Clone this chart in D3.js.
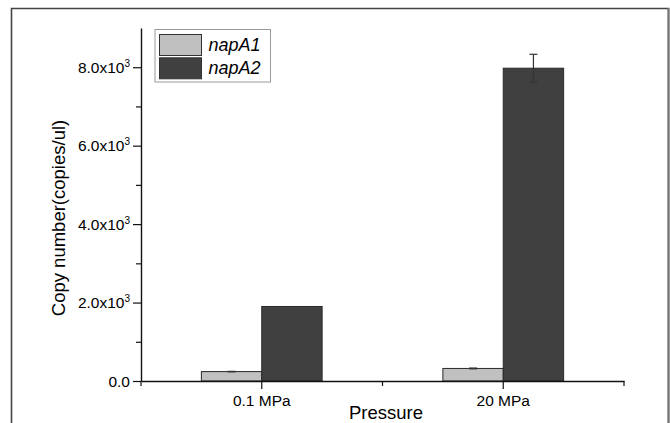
<!DOCTYPE html>
<html>
<head>
<meta charset="utf-8">
<script src="https://cdn.jsdelivr.net/npm/d3@7.9.0/dist/d3.min.js"></script>
<style>
  body { margin: 0; background: #fff; }
  text { font-family: 'Liberation Sans', Arial, sans-serif; fill: #000; }
</style>
</head>
<body>
<svg id="chart"></svg>
<script>
// values
const categories = ['0.1 MPa', '20 MPa'];
const seriesNames = ['napA1', 'napA2'];
const napA1 = [240, 320];
const napA1Err = [6, 10];
const napA2 = [1900, 7975];
const napA2Err = [0, 355];
const yTicks = [0, 2000, 4000, 6000, 8000];
const yMinorTicks = [1000, 3000, 5000, 7000];
const colors = ['#c0c0c0', '#404040'];

const width = 670;
const height = 423;
const margin = { top: 28, right: 46, bottom: 42, left: 141 };

const svg = d3.select('#chart').attr('width', width).attr('height', height);

// outer frame (bottom is cut off in the original)
svg.append('path')
  .attr('d', `M11.5,${height} V8.5 H668.5 V${height}`)
  .attr('fill', 'none')
  .attr('stroke', '#444')
  .attr('stroke-width', 1.6);
svg.append('line')
  .attr('x1', 668.5).attr('x2', 668.5).attr('y1', 8).attr('y2', height)
  .attr('stroke', '#777').attr('stroke-width', 2);

const x0 = d3.scaleBand()
  .domain(categories)
  .range([margin.left, width - margin.right])
  .paddingInner(0.5)
  .paddingOuter(0.25);

const x1 = d3.scaleBand()
  .domain(seriesNames)
  .range([0, x0.bandwidth()]);

const y = d3.scaleLinear()
  .domain([0, 9000])
  .range([height - margin.bottom, margin.top]);

const rows = categories.map((c, i) => ({
  cat: c,
  bars: [
    { key: 'napA1', value: napA1[i], err: napA1Err[i] },
    { key: 'napA2', value: napA2[i], err: napA2Err[i] },
  ],
}));

const groups = svg.append('g')
  .selectAll('g')
  .data(rows)
  .join('g')
  .attr('transform', (d) => `translate(${x0(d.cat)},0)`);

groups.selectAll('rect')
  .data((d) => d.bars)
  .join('rect')
  .attr('x', (d) => x1(d.key))
  .attr('y', (d) => y(d.value))
  .attr('width', x1.bandwidth())
  .attr('height', (d) => y(0) - y(d.value))
  .attr('fill', (d, i) => colors[i])
  .attr('stroke', '#2a2a2a')
  .attr('stroke-width', 1);

// error bars
const eb = groups.selectAll('g.err')
  .data((d) => d.bars.filter((b) => b.err > 0))
  .join('g')
  .attr('class', 'err')
  .attr('stroke', '#333')
  .attr('stroke-width', 1.2);
eb.append('line')
  .attr('x1', (d) => x1(d.key) + x1.bandwidth() / 2)
  .attr('x2', (d) => x1(d.key) + x1.bandwidth() / 2)
  .attr('y1', (d) => y(d.value - d.err))
  .attr('y2', (d) => y(d.value + d.err));
eb.selectAll('line.cap')
  .data((d) => [{ b: d, v: d.value - d.err }, { b: d, v: d.value + d.err }])
  .join('line')
  .attr('class', 'cap')
  .attr('x1', (d) => x1(d.b.key) + x1.bandwidth() / 2 - 4)
  .attr('x2', (d) => x1(d.b.key) + x1.bandwidth() / 2 + 4)
  .attr('y1', (d) => y(d.v))
  .attr('y2', (d) => y(d.v));

// y axis
const yAxisG = svg.append('g')
  .attr('transform', `translate(${margin.left},0)`)
  .call(d3.axisLeft(y).tickValues(yTicks).tickSize(8).tickSizeOuter(0).tickFormat(''));
yAxisG.select('.domain').attr('stroke', '#111').attr('stroke-width', 1.4);
yAxisG.selectAll('.tick line').attr('stroke', '#111').attr('stroke-width', 1.2);
svg.append('g')
  .attr('transform', `translate(${margin.left},0)`)
  .call(d3.axisLeft(y).tickValues(yMinorTicks).tickSize(5).tickFormat(''))
  .call((g) => g.select('.domain').remove())
  .selectAll('.tick line').attr('stroke', '#111').attr('stroke-width', 1.2);

const yLab = svg.append('g').selectAll('text')
  .data(yTicks)
  .join('text')
  .attr('x', 130)
  .attr('y', (d) => y(d) + 5.5)
  .attr('text-anchor', 'end')
  .style('font-size', '15.5px');
yLab.text((d) => (d === 0 ? '0.0' : (d / 1000).toFixed(1) + 'x10'));
yLab.filter((d) => d !== 0)
  .append('tspan')
  .attr('dy', -6)
  .style('font-size', '10px')
  .text('3');

// x axis
const xAxisG = svg.append('g')
  .attr('transform', `translate(0,${y(0)})`)
  .call(d3.axisBottom(x0).tickSize(8).tickSizeOuter(0).tickFormat(''));
xAxisG.select('.domain').attr('stroke', '#111').attr('stroke-width', 1.4);
xAxisG.selectAll('.tick line').attr('stroke', '#111').attr('stroke-width', 1.2);

const step = x0.step();
const xMinor = [margin.left, x0(categories[0]) + x0.bandwidth() / 2 + step / 2, width - margin.right];
svg.append('g').selectAll('line')
  .data(xMinor)
  .join('line')
  .attr('x1', (d) => d).attr('x2', (d) => d)
  .attr('y1', y(0)).attr('y2', y(0) + 5)
  .attr('stroke', '#111').attr('stroke-width', 1.2);

svg.append('g').selectAll('text')
  .data(categories)
  .join('text')
  .attr('x', (d) => x0(d) + x0.bandwidth() / 2)
  .attr('y', 405.5)
  .attr('text-anchor', 'middle')
  .style('font-size', '15.5px')
  .text((d) => d);

// axis titles
svg.append('text')
  .attr('x', 386)
  .attr('y', 419)
  .attr('text-anchor', 'middle')
  .style('font-size', '18.5px')
  .text('Pressure');

svg.append('text')
  .attr('transform', 'translate(65,218) rotate(-90)')
  .attr('text-anchor', 'middle')
  .style('font-size', '18.5px')
  .text('Copy number(copies/ul)');

// legend
const legend = svg.append('g').attr('transform', 'translate(155,29.5)');
legend.append('rect')
  .attr('width', 115.5).attr('height', 52.5)
  .attr('fill', '#fff').attr('stroke', '#999').attr('stroke-width', 1);
const li = legend.selectAll('g.item')
  .data(seriesNames)
  .join('g')
  .attr('class', 'item')
  .attr('transform', (d, i) => `translate(4.5,${5 + i * 23.3})`);
li.append('rect')
  .attr('width', 42).attr('height', 21)
  .attr('fill', (d, i) => colors[i])
  .attr('stroke', '#333').attr('stroke-width', 1);
li.append('text')
  .attr('x', 49)
  .attr('y', 16.5)
  .style('font-size', '18px')
  .style('font-style', 'italic')
  .text((d) => d);
</script>
</body>
</html>
